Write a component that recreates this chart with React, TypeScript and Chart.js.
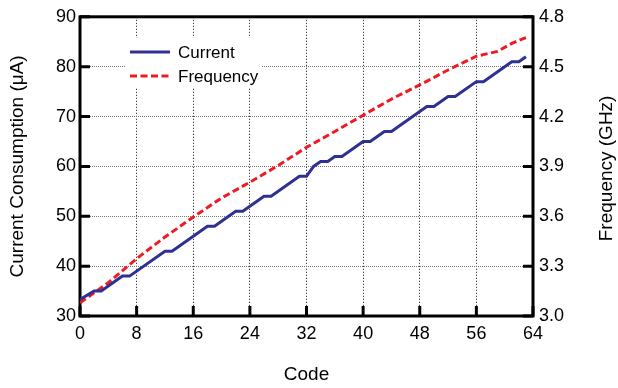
import React, { useEffect, useRef } from "react";
import { Chart, registerables } from "chart.js";

Chart.register(...registerables);

// Supply current versus tuning code (staircase) and oscillation frequency
const currentCodes = [0, 2, 3, 6, 7, 12, 13, 18, 19, 22, 23, 26, 27, 31, 32, 33, 34, 35, 36, 37, 40, 41, 43, 44, 49, 50, 52, 53, 56, 57, 61, 62, 63];
const currentValues = [33.3, 35, 35, 38, 38, 43, 43, 48, 48, 51, 51, 54, 54, 58, 58, 60, 61, 61, 62, 62, 65, 65, 67, 67, 72, 72, 74, 74, 77, 77, 81, 81, 82];

const frequencyCodes = [0, 4, 8, 12, 16, 20, 24, 28, 32, 36, 40, 44, 48, 52, 56, 59, 61, 63];
const frequencyValues = [3.08, 3.2, 3.345, 3.475, 3.595, 3.71, 3.805, 3.905, 4.015, 4.11, 4.208, 4.305, 4.39, 4.48, 4.563, 4.592, 4.64, 4.675];

const codeTicks = [0, 8, 16, 24, 32, 40, 48, 56, 64];
const currentTicks = [30, 40, 50, 60, 70, 80, 90];
const frequencyTicks = [3.0, 3.3, 3.6, 3.9, 4.2, 4.5, 4.8];

const FONT = '"Liberation Sans", Arial, Helvetica, sans-serif';
const BLUE = "#2E3192";
const RED = "#ED1C24";

const toPoints = (xs: number[], ys: number[]) => xs.map((x, i) => ({ x, y: ys[i] }));

// Thick frame plus inward-pointing tick marks on all three axes
const framePlugin = {
  id: "frame",
  beforeDatasetsDraw(chart: any) {
    const { ctx, chartArea: a, scales } = chart;
    ctx.save();
    ctx.strokeStyle = "#000";
    ctx.lineWidth = 3;
    ctx.strokeRect(a.left, a.top, a.right - a.left, a.bottom - a.top);
    const len = 10;
    ctx.beginPath();
    for (const v of codeTicks) {
      const x = scales.x.getPixelForValue(v);
      ctx.moveTo(x, a.bottom);
      ctx.lineTo(x, a.bottom - len);
    }
    for (const v of currentTicks) {
      const y = scales.y.getPixelForValue(v);
      ctx.moveTo(a.left, y);
      ctx.lineTo(a.left + len, y);
    }
    for (const v of frequencyTicks) {
      const y = scales.y2.getPixelForValue(v);
      ctx.moveTo(a.right, y);
      ctx.lineTo(a.right - len, y);
    }
    ctx.stroke();
    ctx.restore();
  },
};

// Legend box inside the plot and the right-hand axis title (reads bottom to top)
const annotationPlugin = {
  id: "annotations",
  afterDatasetsDraw(chart: any) {
    const { ctx, chartArea: a } = chart;
    ctx.save();
    const bx = 126;
    const by = 38;
    ctx.fillStyle = "#fff";
    ctx.fillRect(bx, by, 135, 50);

    const rows = [
      { label: chart.data.datasets[0].label, color: BLUE, dash: [] as number[], y: 52 },
      { label: chart.data.datasets[1].label, color: RED, dash: [7, 3.5], y: 76 },
    ];
    for (const r of rows) {
      ctx.beginPath();
      ctx.strokeStyle = r.color;
      ctx.lineWidth = 3;
      ctx.setLineDash(r.dash);
      ctx.moveTo(130, r.y);
      ctx.lineTo(170, r.y);
      ctx.stroke();
      ctx.setLineDash([]);
      ctx.fillStyle = "#000";
      ctx.font = `17px ${FONT}`;
      ctx.textAlign = "left";
      ctx.textBaseline = "middle";
      ctx.fillText(r.label, 178, r.y + 1);
    }

    ctx.translate(607, (a.top + a.bottom) / 2 + 2);
    ctx.rotate(-Math.PI / 2);
    ctx.font = `19px ${FONT}`;
    ctx.textAlign = "center";
    ctx.textBaseline = "middle";
    ctx.fillStyle = "#000";
    ctx.fillText("Frequency (GHz)", 0, 0);
    ctx.restore();
  },
};

export default function App() {
  const canvasRef = useRef<HTMLCanvasElement | null>(null);

  useEffect(() => {
    const canvas = canvasRef.current;
    if (!canvas) return;
    const tickFont = { family: FONT, size: 18 };
    const chart = new Chart(canvas, {
      type: "line",
      data: {
        datasets: [
          {
            label: "Current",
            data: toPoints(currentCodes, currentValues),
            yAxisID: "y",
            borderColor: BLUE,
            borderWidth: 3,
            pointRadius: 0,
            tension: 0,
            fill: false,
          },
          {
            label: "Frequency",
            data: toPoints(frequencyCodes, frequencyValues),
            yAxisID: "y2",
            borderColor: RED,
            borderWidth: 3,
            borderDash: [7, 3.5],
            pointRadius: 0,
            tension: 0,
            fill: false,
          },
        ],
      },
      options: {
        responsive: false,
        animation: false,
        devicePixelRatio: 1,
        layout: { padding: { top: 13, left: 0, right: 0, bottom: 0 } },
        plugins: { legend: { display: false }, tooltip: { enabled: false } },
        scales: {
          x: {
            type: "linear",
            min: 0,
            max: 64,
            afterBuildTicks: (s: any) => {
              s.ticks = codeTicks.map((value) => ({ value }));
            },
            afterFit: (s: any) => {
              s.height = 72;
            },
            ticks: { font: tickFont, color: "#000", padding: 7, maxRotation: 0 },
            grid: { color: "#111", lineWidth: 1, drawTicks: false },
            border: { display: false, dash: [1, 2] },
            title: {
              display: true,
              text: "Code",
              font: { family: FONT, size: 19 },
              color: "#000",
              padding: { top: 0, bottom: 2 },
            },
          },
          y: {
            type: "linear",
            position: "left",
            min: 30,
            max: 90,
            afterBuildTicks: (s: any) => {
              s.ticks = currentTicks.map((value) => ({ value }));
            },
            afterFit: (s: any) => {
              s.width = 80;
            },
            ticks: { font: tickFont, color: "#000", padding: 4 },
            grid: { color: "#777", lineWidth: 1, drawTicks: false },
            border: { display: false, dash: [1, 1] },
            title: {
              display: true,
              text: "Current Consumption (\u03BCA)",
              font: { family: FONT, size: 19 },
              color: "#000",
              padding: { top: 6, bottom: 0 },
            },
          },
          y2: {
            type: "linear",
            position: "right",
            min: 3.0,
            max: 4.8,
            afterBuildTicks: (s: any) => {
              s.ticks = frequencyTicks.map((value) => ({ value }));
            },
            afterFit: (s: any) => {
              s.width = 85;
            },
            ticks: {
              font: tickFont,
              color: "#000",
              padding: 6,
              callback: (v: any) => Number(v).toFixed(1),
            },
            grid: { display: false, drawTicks: false },
            border: { display: false },
          },
        },
      },
      plugins: [framePlugin, annotationPlugin],
    } as any);
    return () => chart.destroy();
  }, []);

  return (
    <div style={{ position: "absolute", left: 0, top: 0, width: 618, height: 388, background: "#fff" }}>
      <canvas ref={canvasRef} width={618} height={388} style={{ display: "block" }} />
    </div>
  );
}
